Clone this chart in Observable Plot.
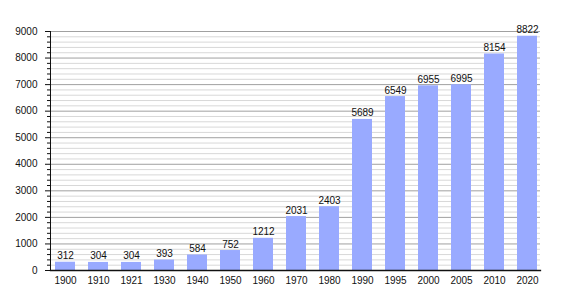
<!DOCTYPE html>
<html>
<head>
<meta charset="utf-8">
<script src="https://cdn.jsdelivr.net/npm/d3@7"></script>
<script src="https://cdn.jsdelivr.net/npm/@observablehq/plot@0.6"></script>
<style>
  html, body { margin: 0; padding: 0; background: #fff; }
  #chart svg { display: block; }
</style>
</head>
<body>
<div id="chart"></div>
<script>
const years = ["1900","1910","1921","1930","1940","1950","1960","1970","1980","1990","1995","2000","2005","2010","2020"];
const population = [312,304,304,393,584,752,1212,2031,2403,5689,6549,6955,6995,8154,8822];
const majorTicks = [0,1000,2000,3000,4000,5000,6000,7000,8000,9000];
const minorTicks = d3.range(0, 9001, 200).filter(v => v % 1000 !== 0);

const data = years.map((y, i) => ({year: y, value: population[i]}));
const font = "'Liberation Sans', Arial, sans-serif";

const chart = Plot.plot({
  width: 570,
  height: 300,
  marginLeft: 50,
  marginRight: 30,
  marginTop: 31,
  marginBottom: 30,
  style: {fontFamily: font, fontSize: "10px", color: "#111", background: "#fff"},
  x: {domain: years, type: "band", paddingInner: 0.4, paddingOuter: 0, insetLeft: 1, label: null},
  y: {domain: [0, 9000], label: null},
  marks: [
    Plot.gridY(minorTicks, {stroke: "#d8d8d8", strokeOpacity: 1}),
    Plot.gridY(majorTicks, {stroke: "#a0a0a0", strokeOpacity: 1}),
    Plot.barY(data, {x: "year", y: "value", fill: "#99aaff"}),
    Plot.text(data, {x: "year", y: "value", text: d => String(d.value), lineAnchor: "bottom", dy: -3, fill: "#111", fontSize: 10}),
    Plot.axisY(minorTicks, {tickSize: 3, text: null, stroke: "#111"}),
    Plot.axisY(majorTicks, {tickSize: 5, tickPadding: 8, stroke: "#111", fontSize: 10, tickFormat: d => String(d)}),
    Plot.axisX({tickSize: 0, tickPadding: 6, fontSize: 10}),
    Plot.frame({anchor: "left", stroke: "#111"}),
    Plot.frame({anchor: "bottom", stroke: "#111", strokeWidth: 1.3})
  ]
});
document.getElementById("chart").appendChild(chart);
</script>
</body>
</html>
